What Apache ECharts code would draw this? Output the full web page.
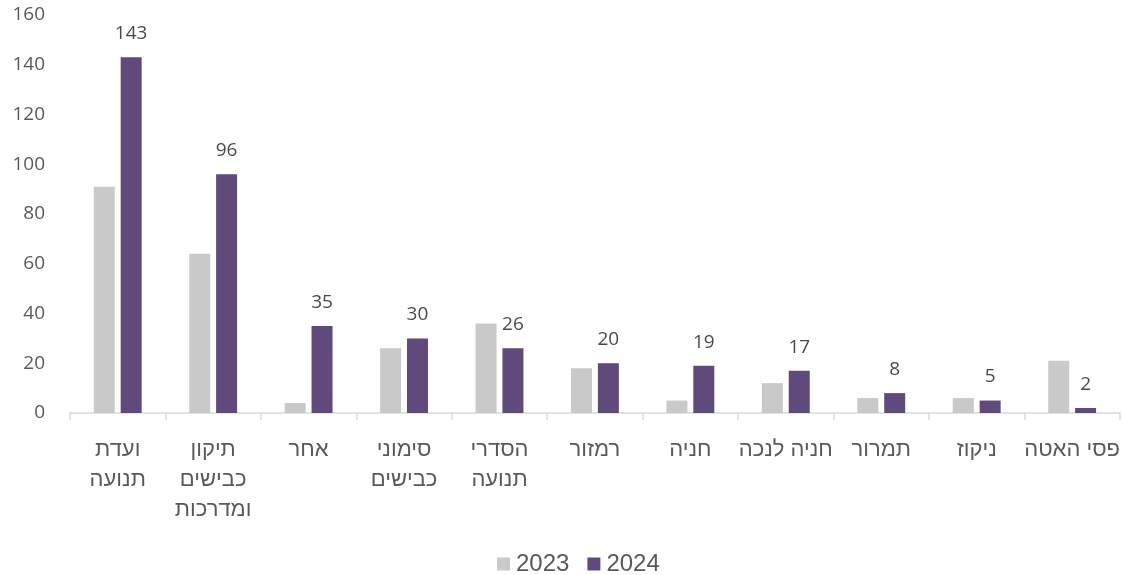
<!DOCTYPE html>
<html>
<head>
<meta charset="utf-8">
<script src="https://cdn.jsdelivr.net/npm/echarts@6/dist/echarts.min.js"></script>
<style>
  html, body { margin: 0; padding: 0; background: #fff; }
  #chart { width: 1123px; height: 575px; }
</style>
</head>
<body>
<div id="chart"></div>
<script>
// Category names as printed under the axis (line breaks are part of the label text)
const categories = [
  'ועדת\nתנועה',
  'תיקון\nכבישים\nומדרכות',
  'אחר',
  'סימוני\nכבישים',
  'הסדרי\nתנועה',
  'רמזור',
  'חניה',
  'חניה לנכה',
  'תמרור',
  'ניקוז',
  'פסי האטה'
];
const seriesNames = ['2023', '2024'];
const values2023 = [91, 64, 4, 26, 36, 18, 5, 12, 6, 6, 21];
const values2024 = [143, 96, 35, 30, 26, 20, 19, 17, 8, 5, 2];
const yTicks = { min: 0, max: 160, interval: 20 };

const numberFont = '"Open Sans", "Liberation Sans", sans-serif';
const hebrewFont = '"Liberation Sans", "DejaVu Sans", sans-serif';
const textColor = '#595959';

const chart = echarts.init(document.getElementById('chart'), null, { renderer: 'canvas' });
chart.setOption({
  animation: false,
  backgroundColor: '#ffffff',
  color: ['#c9c9c9', '#604a7b'],
  grid: { left: 70, right: 3, top: 15, bottom: 162, containLabel: false },
  legend: {
    top: 547,
    left: 492,
    itemWidth: 13,
    itemHeight: 13,
    itemGap: 18,
    icon: 'rect',
    textStyle: { fontFamily: '"Liberation Sans", Arial, sans-serif', fontSize: 24, color: textColor, padding: [0, 0, 0, 1] },
    data: seriesNames
  },
  xAxis: {
    type: 'category',
    data: categories,
    axisLine: { lineStyle: { color: '#d9d9d9', width: 1.5 } },
    axisTick: { show: true, alignWithLabel: false, length: 7, lineStyle: { color: '#d9d9d9', width: 1.5 } },
    axisLabel: {
      interval: 0,
      margin: 22,
      fontFamily: hebrewFont,
      fontSize: 22,
      lineHeight: 30,
      color: textColor
    },
    splitLine: { show: false }
  },
  yAxis: {
    type: 'value',
    min: yTicks.min,
    max: yTicks.max,
    interval: yTicks.interval,
    axisLine: { show: false },
    axisTick: { show: false },
    splitLine: { show: false },
    axisLabel: {
      margin: 25,
      fontFamily: numberFont,
      fontSize: 19,
      color: textColor
    }
  },
  series: [
    {
      name: seriesNames[0],
      type: 'bar',
      data: values2023,
      barWidth: 21,
      barGap: '28%',
      itemStyle: { color: '#c9c9c9' }
    },
    {
      name: seriesNames[1],
      type: 'bar',
      data: values2024,
      barWidth: 21,
      barGap: '28%',
      itemStyle: { color: '#604a7b' },
      label: {
        show: true,
        position: 'top',
        distance: 14,
        fontFamily: numberFont,
        fontSize: 19,
        color: '#4a4a4a'
      }
    }
  ]
});
</script>
</body>
</html>
